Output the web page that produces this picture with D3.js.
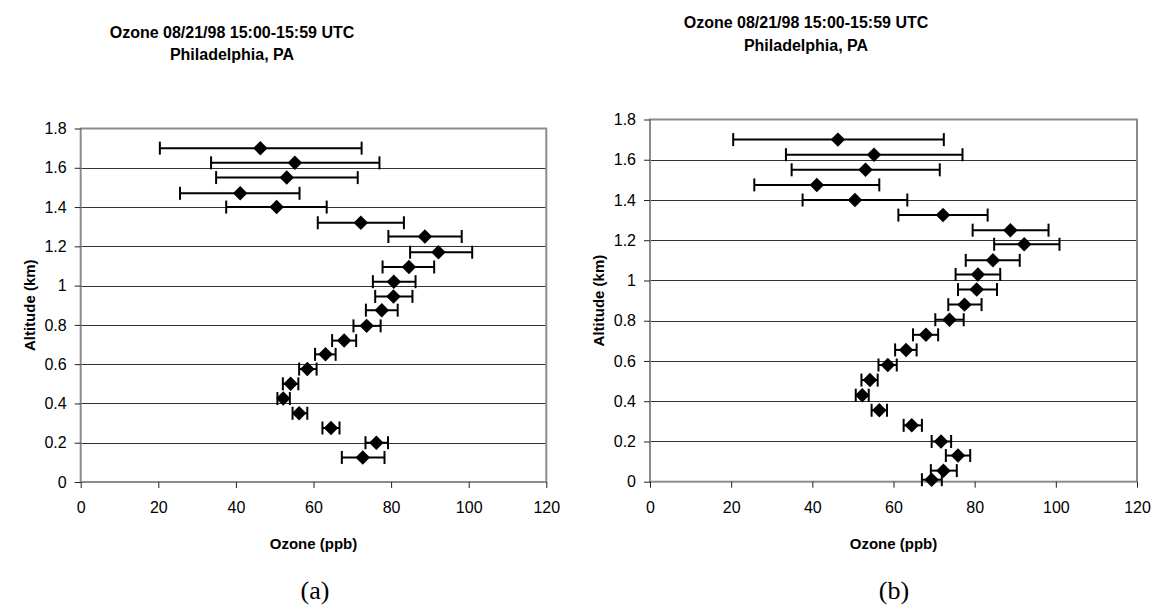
<!DOCTYPE html>
<html>
<head>
<meta charset="utf-8">
<script src="https://cdn.jsdelivr.net/npm/d3@7"></script>
<style>
  body { margin: 0; background: #fff; }
  svg { display: block; }
</style>
</head>
<body>
<div id="chart"></div>
<script>
// tick values shared by both panels
const xTicks = [0, 20, 40, 60, 80, 100, 120];
const yTicks = [0, 0.2, 0.4, 0.6, 0.8, 1, 1.2, 1.4, 1.6, 1.8];

const titleLines = ["Ozone 08/21/98 15:00-15:59 UTC", "Philadelphia, PA"];

// panel (a)
const altA   = [1.70, 1.625, 1.55, 1.47, 1.40, 1.32, 1.25, 1.17, 1.095, 1.02, 0.945, 0.875, 0.795, 0.72, 0.65, 0.575, 0.50, 0.425, 0.35, 0.275, 0.20, 0.125];
const ozoneA = [46.3, 55.2, 53.1, 41.1, 50.5, 72.2, 88.7, 92.2, 84.6, 80.7, 80.6, 77.6, 73.7, 67.9, 63.1, 58.4, 54.1, 52.2, 56.3, 64.5, 76.2, 72.7];
const lowA   = [20.4, 33.6, 34.9, 25.6, 37.5, 61.1, 79.3, 84.9, 77.8, 75.3, 75.9, 73.5, 70.3, 64.8, 60.4, 56.3, 52.1, 50.7, 54.6, 62.3, 73.4, 67.3];
const highA  = [72.4, 77.0, 71.4, 56.4, 63.4, 83.3, 98.2, 100.9, 91.1, 86.3, 85.5, 81.7, 77.3, 71.0, 65.7, 60.8, 56.1, 53.9, 58.4, 66.7, 79.2, 78.3];

// panel (b)
const altB   = [1.70, 1.625, 1.55, 1.475, 1.40, 1.325, 1.25, 1.18, 1.10, 1.03, 0.955, 0.88, 0.805, 0.73, 0.655, 0.58, 0.505, 0.43, 0.355, 0.28, 0.20, 0.13, 0.055, 0.01];
const ozoneB = [46.3, 55.2, 53.1, 41.1, 50.5, 72.2, 88.8, 92.2, 84.5, 80.8, 80.5, 77.5, 73.8, 68.0, 63.1, 58.6, 54.2, 52.3, 56.5, 64.5, 71.7, 75.9, 72.3, 69.4];
const lowB   = [20.5, 33.5, 34.9, 25.7, 37.6, 61.2, 79.5, 84.8, 77.8, 75.3, 75.9, 73.5, 70.3, 64.8, 60.4, 56.3, 52.1, 50.7, 54.6, 62.5, 69.4, 72.9, 69.2, 67.0];
const highB  = [72.4, 77.0, 71.4, 56.5, 63.4, 83.2, 98.2, 100.9, 91.1, 86.3, 85.5, 81.7, 77.3, 71.0, 65.7, 60.8, 56.1, 53.9, 58.4, 67.0, 74.2, 78.9, 75.6, 71.9];

const panels = [
  { label: "(a)", alt: altA, ozone: ozoneA, low: lowA, high: highA,
    left: 80.7, right: 546.3, top: 128.5, bottom: 482, titleX: 232, titleY: [38, 60], tagX: 315 },
  { label: "(b)", alt: altB, ozone: ozoneB, low: lowB, high: highB,
    left: 650, right: 1137, top: 119.5, bottom: 481.7, titleX: 806, titleY: [28, 51], tagX: 894 }
];

const svg = d3.select("#chart").append("svg")
  .attr("width", 1154)
  .attr("height", 611)
  .style("font-family", "'Liberation Sans', Arial, sans-serif");

panels.forEach(p => {
  const x = d3.scaleLinear().domain([0, 120]).range([p.left, p.right]);
  const y = d3.scaleLinear().domain([0, 1.8]).range([p.bottom, p.top]);
  const data = p.alt.map((a, i) => ({ alt: a, oz: p.ozone[i], lo: p.low[i], hi: p.high[i] }));
  const g = svg.append("g");

  // gridlines
  g.selectAll("line.grid")
    .data(yTicks.filter(t => t > 0 && t < 1.8))
    .enter().append("line")
    .attr("class", "grid")
    .attr("x1", p.left).attr("x2", p.right)
    .attr("y1", d => Math.round(y(d)) + 0.5)
    .attr("y2", d => Math.round(y(d)) + 0.5)
    .attr("stroke", "#333")
    .attr("stroke-width", 1);

  // plot area border
  g.append("rect")
    .attr("x", p.left).attr("y", p.top)
    .attr("width", p.right - p.left).attr("height", p.bottom - p.top)
    .attr("fill", "none")
    .attr("stroke", "#8c8c8c")
    .attr("stroke-width", 2);

  // x axis
  const xa = g.append("g")
    .attr("transform", `translate(0,${p.bottom})`)
    .call(d3.axisBottom(x).tickValues(xTicks).tickSize(6).tickPadding(14).tickFormat(d3.format("d")));
  xa.select(".domain").remove();
  xa.selectAll("line").attr("stroke", "#222");
  xa.selectAll("text").style("font-size", "16px").attr("fill", "#000");

  // y axis
  const ya = g.append("g")
    .attr("transform", `translate(${p.left},0)`)
    .call(d3.axisLeft(y).tickValues(yTicks).tickSize(6).tickPadding(8).tickFormat(d => String(+d.toFixed(1))));
  ya.select(".domain").remove();
  ya.selectAll("line").attr("stroke", "#222");
  ya.selectAll("text").style("font-size", "16px").attr("fill", "#000");

  // error bars
  const eb = g.selectAll("g.err").data(data).enter().append("g").attr("class", "err");
  eb.append("line")
    .attr("x1", d => x(d.lo)).attr("x2", d => x(d.hi))
    .attr("y1", d => y(d.alt)).attr("y2", d => y(d.alt))
    .attr("stroke", "#000").attr("stroke-width", 2);
  ["lo", "hi"].forEach(k => {
    eb.append("line")
      .attr("x1", d => x(d[k])).attr("x2", d => x(d[k]))
      .attr("y1", d => y(d.alt) - 6.5).attr("y2", d => y(d.alt) + 6.5)
      .attr("stroke", "#000").attr("stroke-width", 2);
  });

  // diamond markers
  g.selectAll("path.pt").data(data).enter().append("path")
    .attr("class", "pt")
    .attr("d", d3.symbol(d3.symbolSquare, 105))
    .attr("transform", d => `translate(${x(d.oz)},${y(d.alt)}) rotate(45)`)
    .attr("fill", "#000");

  // title
  g.append("text")
    .attr("x", p.titleX).attr("text-anchor", "middle")
    .style("font-size", "16px").style("font-weight", "bold")
    .selectAll("tspan").data(titleLines).enter().append("tspan")
    .attr("x", p.titleX).attr("y", (d, i) => p.titleY[i])
    .text(d => d);

  // axis titles
  g.append("text")
    .attr("x", (p.left + p.right) / 2).attr("y", 549)
    .attr("text-anchor", "middle")
    .style("font-size", "15px").style("font-weight", "bold")
    .text("Ozone (ppb)");

  g.append("text")
    .attr("transform", `translate(${p.left - 46},${(p.top + p.bottom) / 2}) rotate(-90)`)
    .attr("text-anchor", "middle")
    .style("font-size", "15px").style("font-weight", "bold")
    .text("Altitude (km)");

  // panel tag
  g.append("text")
    .attr("x", p.tagX).attr("y", 599)
    .attr("text-anchor", "middle")
    .style("font-family", "'Liberation Serif', 'Times New Roman', serif")
    .style("font-size", "26px")
    .text(p.label);
});
</script>
</body>
</html>
